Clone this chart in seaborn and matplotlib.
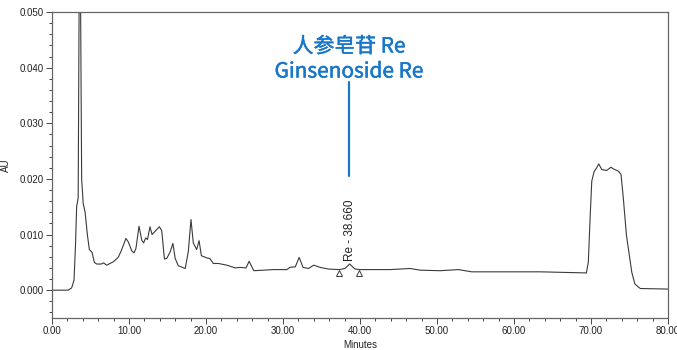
import matplotlib
matplotlib.use("Agg")
import matplotlib.pyplot as plt
import matplotlib.patheffects as pe
import seaborn as sns
import pandas as pd
from matplotlib.ticker import MultipleLocator, FormatStrFormatter

# Chromatogram trace (retention time in minutes, absorbance in AU)
time_min = [0.0, 2.1, 2.55, 2.86, 3.05, 3.2, 3.4, 3.55, 3.62, 3.72, 3.85, 4.05, 4.3,
            4.6, 4.85, 5.0, 5.2, 5.5, 5.8, 6.4, 6.7, 7.1, 7.96, 8.6, 9.0, 9.6, 9.9,
            10.35, 10.65, 10.9, 11.3, 11.65, 11.9, 12.17, 12.4, 12.73, 13.0, 13.4,
            13.95, 14.25, 14.6, 14.9, 15.35, 15.7, 16.0, 16.4, 17.3, 17.7, 18.05,
            18.35, 18.78, 19.1, 19.4, 20.1, 20.5, 20.95, 21.6, 22.7, 23.8, 24.4,
            25.2, 25.6, 26.2, 28.75, 30.5, 30.9, 31.6, 32.1, 32.6, 33.3, 34.0, 34.8,
            35.9, 37.3, 38.05, 38.66, 39.35, 40.0, 43.9, 46.5, 47.8, 50.4, 52.8,
            54.5, 63.4, 69.4, 69.65, 69.9, 70.1, 70.4, 70.7, 71.0, 71.4, 72.0, 72.6,
            72.9, 73.55, 73.9, 74.2, 74.6, 75.3, 75.7, 76.4, 80.0]
absorbance = [0.0, 0.0, 0.0004, 0.0018, 0.008, 0.0150, 0.0166, 0.060, 0.090, 0.050,
              0.0200, 0.0156, 0.0140, 0.0099, 0.0073, 0.0071, 0.0068, 0.0050, 0.0047,
              0.0047, 0.0049, 0.0045, 0.0051, 0.0059, 0.0071, 0.0093, 0.0087, 0.0071,
              0.0067, 0.0075, 0.0115, 0.0090, 0.0085, 0.0094, 0.0091, 0.0114, 0.0100,
              0.0106, 0.0114, 0.0107, 0.0056, 0.0057, 0.0069, 0.0084, 0.0057, 0.0044,
              0.0039, 0.0069, 0.0127, 0.0085, 0.0073, 0.0089, 0.0062, 0.0058, 0.0057,
              0.0048, 0.0048, 0.0045, 0.0040, 0.0041, 0.0040, 0.0052, 0.0035, 0.0037,
              0.0037, 0.0041, 0.0042, 0.0059, 0.0041, 0.0039, 0.0045, 0.0041, 0.0038,
              0.0037, 0.0039, 0.0047, 0.0038, 0.0037, 0.0037, 0.0039, 0.0036, 0.0035,
              0.0037, 0.0033, 0.0033, 0.0031, 0.0050, 0.0135, 0.0196, 0.0213, 0.0219,
              0.0227, 0.0217, 0.0215, 0.0221, 0.0218, 0.0214, 0.0208, 0.0165, 0.0099,
              0.0032, 0.0011, 0.0003, 0.0002]

# Integration start/end markers of the Re peak
marker_times = [37.3, 39.9]
marker_levels = [0.0031, 0.0031]

peak_name = "Re"
peak_rt = 38.660
peak_label = f"{peak_name} - {peak_rt:.3f}"
callout_lines = ["人参皂苷 Re", "Ginsenoside Re"]

sns.set_style("ticks")
plt.rcParams["font.family"] = ["Liberation Sans", "DejaVu Sans"]

df = pd.DataFrame({"Minutes": time_min, "AU": absorbance})

fig = plt.figure(figsize=(6.77, 3.5), dpi=100)
ax = fig.add_axes([52 / 677, 1 - 318 / 350, 616 / 677, 306 / 350])

sns.lineplot(data=df, x="Minutes", y="AU", ax=ax, color="#3a3a3a", linewidth=0.8,
             sort=False)
ax.plot(marker_times, marker_levels, linestyle="none", marker="^", markersize=4,
        markerfacecolor="white", markeredgecolor="#3a3a3a", markeredgewidth=0.7)

ax.set_xlim(0, 80)
ax.set_ylim(-0.005, 0.050)
ax.xaxis.set_major_locator(MultipleLocator(10))
ax.xaxis.set_minor_locator(MultipleLocator(2))
ax.yaxis.set_major_locator(MultipleLocator(0.010))
ax.yaxis.set_minor_locator(MultipleLocator(0.002))
ax.xaxis.set_major_formatter(FormatStrFormatter("%.2f"))
ax.yaxis.set_major_formatter(FormatStrFormatter("%.3f"))
ax.tick_params(which="major", length=4, width=0.7, labelsize=7, colors="#444444",
               labelcolor="#222222", pad=2)
ax.tick_params(which="minor", length=2.5, width=0.7, colors="#444444")
for s in ax.spines.values():
    s.set_color("#666666")
    s.set_linewidth(0.9)

ax.set_xlabel("Minutes", fontsize=7, color="#222222", labelpad=3)
ax.set_ylabel("AU", fontsize=7, color="#222222", labelpad=6)

# Retention time label above the Re peak
ax.text(peak_rt, 0.0053, peak_label, rotation=90, ha="center", va="bottom",
        fontsize=8.5, color="#222222")

# Blue callout with compound name
blue = "#1877c9"
thicken = [pe.withStroke(linewidth=0.35, foreground=blue)]
ax.plot([38.6, 38.6], [0.0205, 0.0375], color=blue, linewidth=1.6)
ax.text(38.6, 0.0438, callout_lines[0], ha="center", va="center", fontsize=15,
        color=blue, family=["Noto Sans CJK TC", "DejaVu Sans"], path_effects=thicken)
ax.text(38.6, 0.0393, callout_lines[1], ha="center", va="center", fontsize=15,
        color=blue, family=["Noto Sans CJK TC", "DejaVu Sans"], path_effects=thicken)

fig.savefig("out.png", dpi=100)
